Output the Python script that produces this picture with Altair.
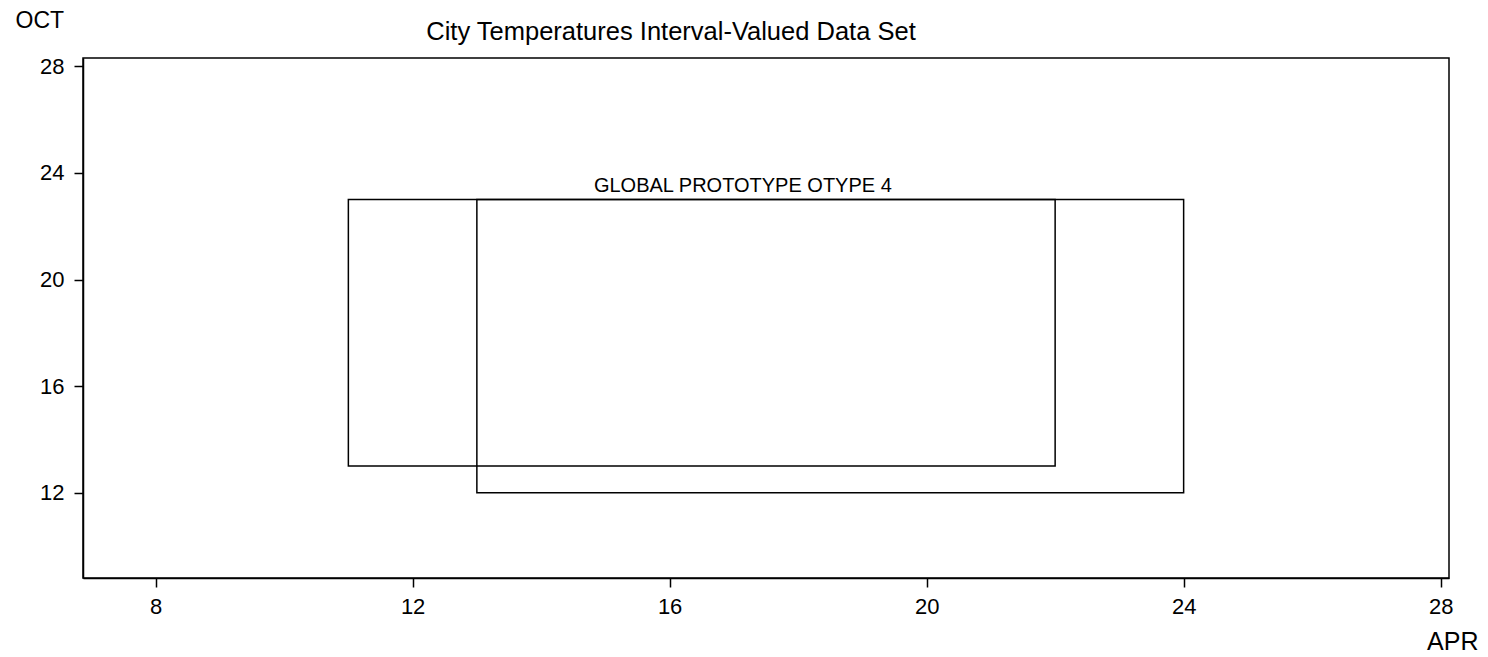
import altair as alt
import pandas as pd

# Interval-valued boxes (APR range on x, OCT range on y)
box_names = ["Global prototype", "Prototype 4"]
apr_low = [11, 13]
apr_high = [22, 24]
oct_low = [13, 12]
oct_high = [23, 23]

# Label drawn above the boxes
label_text = ["GLOBAL PROTOTYPE OTYPE 4"]
label_apr = [17.14]
label_oct = [23]

x_ticks = [8, 12, 16, 20, 24, 28]
y_ticks = [12, 16, 20, 24, 28]

boxes = pd.DataFrame({
    "name": box_names,
    "apr_low": apr_low,
    "apr_high": apr_high,
    "oct_low": oct_low,
    "oct_high": oct_high,
})
labels = pd.DataFrame({"text": label_text, "apr": label_apr, "oct": label_oct})

FONT = "Liberation Sans"

x_scale = alt.Scale(domain=[6.87, 28.13], zero=False, nice=False)
y_scale = alt.Scale(domain=[8.8, 28.315], zero=False, nice=False)

x_axis = alt.Axis(
    values=x_ticks, format="d", title="APR", grid=False,
    tickSize=9, tickColor="black", tickWidth=1.5,
    domainColor="black", domainWidth=1.5,
    labelPadding=9, labelFont=FONT, labelFontSize=22, labelColor="black",
    labelFlush=False, labelOverlap=False,
    titleFont=FONT, titleFontSize=25, titleFontWeight="normal", titleColor="black",
    titleAlign="right", titleBaseline="alphabetic", titleX=1395, titleY=71,
)
y_axis = alt.Axis(
    values=y_ticks, format="d", title="OCT", grid=False,
    tickSize=9, tickColor="black", tickWidth=1.5,
    domainColor="black", domainWidth=1.5,
    labelPadding=10, labelFont=FONT, labelFontSize=22, labelColor="black",
    labelFlush=False, labelOverlap=False,
    titleFont=FONT, titleFontSize=23, titleFontWeight="normal", titleColor="black",
    titleAngle=0, titleAlign="left", titleBaseline="alphabetic", titleX=-68, titleY=-31,
)

rects = alt.Chart(boxes).mark_rect(
    fillOpacity=0, stroke="black", strokeWidth=1.5
).encode(
    x=alt.X("apr_low:Q", scale=x_scale, axis=x_axis),
    x2="apr_high:Q",
    y=alt.Y("oct_low:Q", scale=y_scale, axis=y_axis),
    y2="oct_high:Q",
)

text = alt.Chart(labels).mark_text(
    font=FONT, fontSize=20, color="black", align="center",
    baseline="alphabetic", dy=-8,
).encode(
    x=alt.X("apr:Q", scale=x_scale),
    y=alt.Y("oct:Q", scale=y_scale),
    text="text:N",
)

chart = alt.layer(rects, text).properties(
    width=1366,
    height=520,
    padding={"left": 75, "top": 50, "right": 31, "bottom": 78},
    autosize=alt.AutoSizeParams(type="none"),
    title=alt.TitleParams(
        "City Temperatures Interval-Valued Data Set",
        font=FONT, fontSize=25.5, fontWeight="normal", color="black",
        anchor="middle", frame="group", dx=-95,
        baseline="alphabetic", offset=-56,
    ),
).configure(
    background="white",
    view=alt.ViewConfig(stroke="black", strokeWidth=1.5),
)

chart.save("out.html", embed_options={"renderer": "svg", "actions": False})
